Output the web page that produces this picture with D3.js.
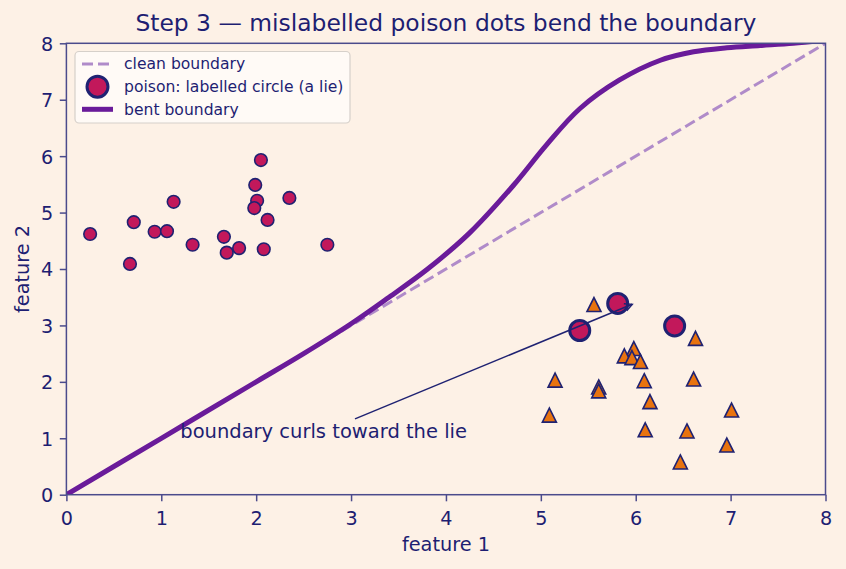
<!DOCTYPE html>
<html>
<head>
<meta charset="utf-8">
<script src="https://cdn.jsdelivr.net/npm/d3@7"></script>
<style>
  html, body { margin: 0; padding: 0; background: #fdf1e6; }
  svg { display: block; font-family: "DejaVu Sans", sans-serif; }
</style>
</head>
<body>
<svg id="chart" width="846" height="569"></svg>
<script>
// ---------------- data ----------------
const circleX = [0.25, 0.67, 0.71, 0.93, 1.06, 1.13, 1.33, 1.66, 1.69, 1.82, 2.05, 1.99, 2.01, 1.98, 2.12, 2.08, 2.35, 2.75];
const circleY = [4.62, 4.09, 4.83, 4.66, 4.67, 5.19, 4.43, 4.57, 4.29, 4.37, 5.93, 5.49, 5.21, 5.08, 4.87, 4.35, 5.26, 4.43];

const triangleX = [5.56, 6.63, 5.98, 5.88, 5.96, 6.05, 5.15, 5.61, 5.61, 6.09, 6.61, 6.15, 5.09, 7.01, 6.10, 6.54, 6.96, 6.47];
const triangleY = [3.37, 2.77, 2.59, 2.46, 2.43, 2.36, 2.03, 1.91, 1.84, 2.02, 2.05, 1.65, 1.41, 1.50, 1.15, 1.13, 0.88, 0.58];

const poisonX = [5.41, 5.81, 6.41];
const poisonY = [2.91, 3.39, 2.99];

const cleanX = [0, 8];
const cleanY = [0, 8];

const bentX = [0, 1, 2, 2.5, 3.0, 3.4, 3.8, 4.25, 4.71, 5.06, 5.41, 5.83, 6.26, 6.61, 6.96, 7.31, 7.66, 8];
const bentY = [0, 1, 2, 2.5, 3.03, 3.5, 3.99, 4.64, 5.48, 6.2, 6.84, 7.35, 7.70, 7.85, 7.92, 7.96, 8.0, 8.06];

const xTicks = [0, 1, 2, 3, 4, 5, 6, 7, 8];
const yTicks = [0, 1, 2, 3, 4, 5, 6, 7, 8];

const legendLabels = ["clean boundary", "poison: labelled circle (a lie)", "bent boundary"];
const titleText = "Step 3 \u2014 mislabelled poison dots bend the boundary";
const xLabel = "feature 1";
const yLabel = "feature 2";
const annotText = "boundary curls toward the lie";
const annotTarget = [6.0, 3.4];
const annotTextPos = [1.2, 1.0];

// ---------------- style ----------------
const BG = "#fdf1e6";
const TEXT = "#1e1e72";
const SPINE = "#4b4b8c";
const CIRCLE_FILL = "#c2185b";
const EDGE = "#1f2272";
const TRI_FILL = "#e8730f";
const BENT = "#6a1b9a";
const CLEAN = "#b08bc9";

const svg = d3.select("#chart");
svg.append("rect").attr("width", 846).attr("height", 569).attr("fill", BG);

const L = 66.4, R = 825.5, T = 43.3, B = 494.7;
const x = d3.scaleLinear().domain([0, 8]).range([L, R]);
const y = d3.scaleLinear().domain([0, 8]).range([B, T]);

svg.append("defs").append("clipPath").attr("id", "plotclip")
  .append("rect").attr("x", L).attr("y", T).attr("width", R - L).attr("height", B - T);

const plot = svg.append("g");
const lines = plot.append("g").attr("clip-path", "url(#plotclip)");

// clean boundary
const cleanData = cleanX.map((d, i) => [d, cleanY[i]]);
lines.append("path")
  .datum(cleanData)
  .attr("d", d3.line().x(d => x(d[0])).y(d => y(d[1])))
  .attr("fill", "none").attr("stroke", CLEAN).attr("stroke-width", 3)
  .attr("stroke-dasharray", "11,5");

// circles
const circData = circleX.map((d, i) => [d, circleY[i]]);
plot.append("g").selectAll("circle").data(circData).join("circle")
  .attr("cx", d => x(d[0])).attr("cy", d => y(d[1])).attr("r", 6.3)
  .attr("fill", CIRCLE_FILL).attr("stroke", EDGE).attr("stroke-width", 1.6);

// triangles
const triData = triangleX.map((d, i) => [d, triangleY[i]]);
const triSize = 14;
const triPath = `M0,${-triSize / 2}L${triSize / 2},${triSize / 2}L${-triSize / 2},${triSize / 2}Z`;
plot.append("g").selectAll("path").data(triData).join("path")
  .attr("d", triPath)
  .attr("transform", d => `translate(${x(d[0])},${y(d[1])})`)
  .attr("fill", TRI_FILL).attr("stroke", EDGE).attr("stroke-width", 1.6)
  .attr("stroke-linejoin", "miter");

// poison
const poisonData = poisonX.map((d, i) => [d, poisonY[i]]);
plot.append("g").selectAll("circle").data(poisonData).join("circle")
  .attr("cx", d => x(d[0])).attr("cy", d => y(d[1])).attr("r", 10)
  .attr("fill", CIRCLE_FILL).attr("stroke", EDGE).attr("stroke-width", 3);

// bent boundary
const bentData = bentX.map((d, i) => [d, bentY[i]]);
const lines2 = plot.append("g").attr("clip-path", "url(#plotclip)");
lines2.append("path")
  .datum(bentData)
  .attr("d", d3.line().curve(d3.curveCatmullRom.alpha(0.5)).x(d => x(d[0])).y(d => y(d[1])))
  .attr("fill", "none").attr("stroke", BENT).attr("stroke-width", 5)
  .attr("stroke-linecap", "butt").attr("stroke-linejoin", "round");

// axes
const xAxis = svg.append("g").attr("transform", `translate(0,${B})`)
  .call(d3.axisBottom(x).tickValues(xTicks).tickFormat(d3.format("d")).tickSize(6.6).tickSizeOuter(0));
const yAxis = svg.append("g").attr("transform", `translate(${L},0)`)
  .call(d3.axisLeft(y).tickValues(yTicks).tickFormat(d3.format("d")).tickSize(6.6).tickSizeOuter(0));
[xAxis, yAxis].forEach(a => {
  a.select(".domain").remove();
  a.selectAll(".tick line").attr("stroke", SPINE).attr("stroke-width", 1.5);
  a.selectAll(".tick text").attr("fill", TEXT).attr("font-size", 19.2)
    .attr("font-family", "DejaVu Sans");
});
xAxis.selectAll(".tick text").attr("y", 30.5).attr("dy", null);
yAxis.selectAll(".tick text").attr("x", -13.2).attr("dy", "0.36em");

// spines
svg.append("rect").attr("x", L).attr("y", T).attr("width", R - L).attr("height", B - T)
  .attr("fill", "none").attr("stroke", SPINE).attr("stroke-width", 1.5);

// labels
svg.append("text").attr("x", (L + R) / 2).attr("y", 551).attr("text-anchor", "middle")
  .attr("fill", TEXT).attr("font-size", 19.3).text(xLabel);
svg.append("text").attr("transform", `translate(28.5,${(T + B) / 2}) rotate(-90)`)
  .attr("text-anchor", "middle").attr("fill", TEXT).attr("font-size", 19.3).text(yLabel);
svg.append("text").attr("x", (L + R) / 2).attr("y", 31).attr("text-anchor", "middle")
  .attr("fill", TEXT).attr("font-size", 23.4).text(titleText);

// annotation
const annot = svg.append("g");
const at = annot.append("text").attr("x", x(annotTextPos[0])).attr("y", y(annotTextPos[1]))
  .attr("fill", TEXT).attr("font-size", 19.5).text(annotText);
const bb = at.node().getBBox();
const cx0 = bb.x + bb.width / 2, cy0 = bb.y + bb.height / 2;
const tx = x(annotTarget[0]), ty = y(annotTarget[1]);
const dx = tx - cx0, dy = ty - cy0, len = Math.hypot(dx, dy);
const ux = dx / len, uy = dy / len;
let tExit = Infinity;
if (ux !== 0) tExit = Math.min(tExit, (ux > 0 ? bb.x + bb.width - cx0 : bb.x - cx0) / ux);
if (uy !== 0) tExit = Math.min(tExit, (uy > 0 ? bb.y + bb.height - cy0 : bb.y - cy0) / uy);
const shrink = 3.8;
const sx = cx0 + ux * (tExit + shrink), sy = cy0 + uy * (tExit + shrink);
const ex = tx - ux * shrink, ey = ty - uy * shrink;
annot.append("line").attr("x1", sx).attr("y1", sy).attr("x2", ex).attr("y2", ey)
  .attr("stroke", EDGE).attr("stroke-width", 1.5);
const hl = 7.5, hw = 3.8;
const px = -uy, py = ux;
annot.append("path")
  .attr("d", `M${ex - ux * hl + px * hw},${ey - uy * hl + py * hw}L${ex},${ey}L${ex - ux * hl - px * hw},${ey - uy * hl - py * hw}`)
  .attr("fill", "none").attr("stroke", EDGE).attr("stroke-width", 1.5);

// legend
const lg = svg.append("g");
lg.append("rect").attr("x", 75).attr("y", 51.5).attr("width", 275).attr("height", 71.5)
  .attr("rx", 4).attr("fill", "#fffbf7").attr("fill-opacity", 0.9)
  .attr("stroke", "#d6d0ca").attr("stroke-width", 1.2);
const rowY = [64, 86.7, 109.3];
const hx0 = 82, hx1 = 113;
lg.append("line").attr("x1", hx0).attr("x2", hx1).attr("y1", rowY[0]).attr("y2", rowY[0])
  .attr("stroke", CLEAN).attr("stroke-width", 3).attr("stroke-dasharray", "11,5");
lg.append("circle").attr("cx", (hx0 + hx1) / 2).attr("cy", rowY[1]).attr("r", 10.5)
  .attr("fill", CIRCLE_FILL).attr("stroke", EDGE).attr("stroke-width", 3);
lg.append("line").attr("x1", hx0).attr("x2", hx1).attr("y1", rowY[2]).attr("y2", rowY[2])
  .attr("stroke", BENT).attr("stroke-width", 5);
legendLabels.forEach((t, i) => {
  lg.append("text").attr("x", 124).attr("y", rowY[i] + 5.3)
    .attr("fill", TEXT).attr("font-size", 15.6).text(t);
});
</script>
</body>
</html>
